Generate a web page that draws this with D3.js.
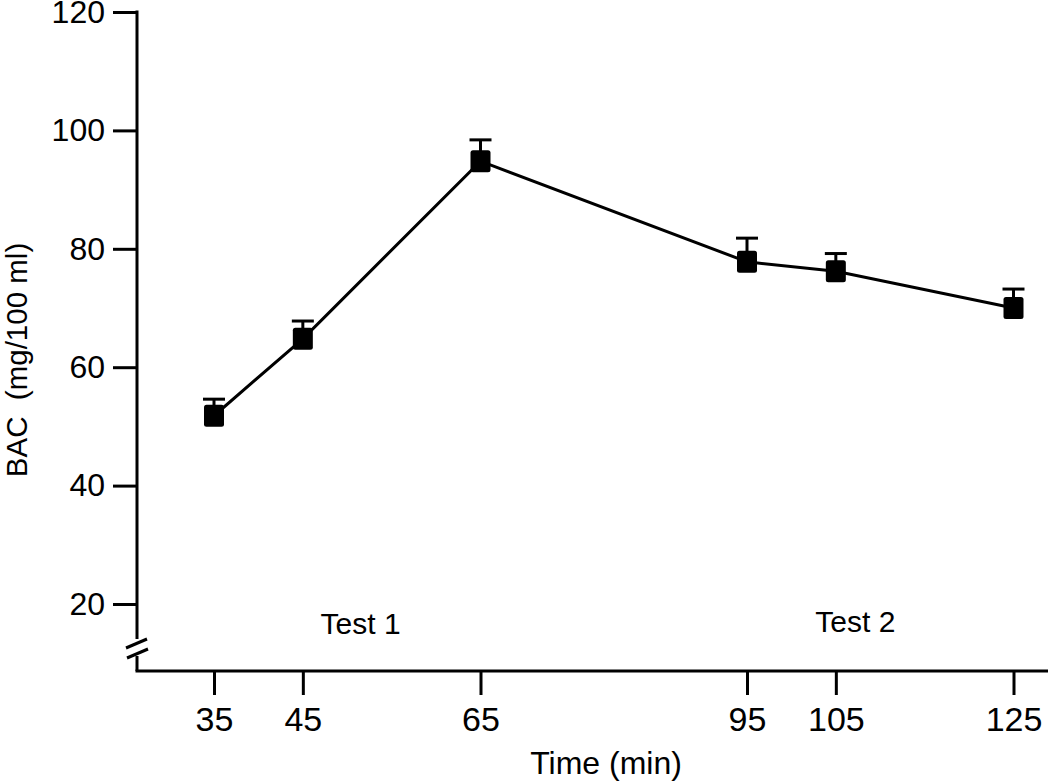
<!DOCTYPE html>
<html>
<head>
<meta charset="utf-8">
<script src="https://cdn.jsdelivr.net/npm/d3@7"></script>
<style>
  html, body { margin: 0; padding: 0; background: #fff; }
  svg { display: block; }
  text { font-family: "Liberation Sans", Arial, sans-serif; fill: #000; }
</style>
</head>
<body>
<svg id="chart" width="1050" height="781"></svg>
<script>
// ---- data ----
const times = [35, 45, 65, 95, 105, 125];
const bac = [51.8, 64.8, 94.8, 77.8, 76.2, 70.0];
const sem = [2.8, 3.0, 3.6, 4.0, 3.0, 3.2];
const xTicks = [35, 45, 65, 95, 105, 125];
const yTicks = [20, 40, 60, 80, 100, 120];
const testLabels = ["Test 1", "Test 2"];
const testTimes = [51.5, 107.2];
const testBac = [15, 15.3];
const xTitle = "Time (min)";
const yTitle = "BAC  (mg/100 ml)";

// ---- layout ----
const svg = d3.select("#chart");
const axisX0 = 137, axisY0 = 671, axisXEnd = 1048;
const x = d3.scaleLinear().domain([35, 125]).range([214, 1013.5]);
const y = d3.scaleLinear().domain([20, 120]).range([604, 12]);
const sw = 3;

// y axis ticks & labels
const yAxis = svg.append("g").attr("transform", `translate(${axisX0},0)`)
  .call(d3.axisLeft(y).tickValues(yTicks).tickSize(24).tickSizeOuter(0).tickPadding(8));
yAxis.select(".domain").remove();
yAxis.selectAll(".tick line").attr("stroke", "#000").attr("stroke-width", sw);
yAxis.selectAll(".tick text").attr("font-size", 32).attr("font-family", "Liberation Sans, Arial, sans-serif");

// x axis ticks & labels
const xAxis = svg.append("g").attr("transform", `translate(0,${axisY0})`)
  .call(d3.axisBottom(x).tickValues(xTicks).tickSize(24).tickSizeOuter(0).tickPadding(12));
xAxis.select(".domain").remove();
xAxis.selectAll(".tick line").attr("stroke", "#000").attr("stroke-width", sw);
xAxis.selectAll(".tick text").attr("font-size", 34).attr("font-family", "Liberation Sans, Arial, sans-serif");

// axis lines with break
const axes = svg.append("g").attr("stroke", "#000").attr("stroke-width", sw).attr("fill", "none");
axes.append("line").attr("x1", axisX0).attr("x2", axisX0).attr("y1", y(120) - 1.5).attr("y2", 639);
axes.append("line").attr("x1", axisX0).attr("x2", axisX0).attr("y1", 656).attr("y2", axisY0);
axes.append("line").attr("x1", axisX0 - 1.5).attr("x2", axisXEnd).attr("y1", axisY0).attr("y2", axisY0);
axes.append("line").attr("x1", 126).attr("y1", 648).attr("x2", 147).attr("y2", 639);
axes.append("line").attr("x1", 127).attr("y1", 658).attr("x2", 148).attr("y2", 649);

// data
const pts = times.map((t, i) => ({ t, v: bac[i], e: sem[i] }));

svg.append("path").datum(pts)
  .attr("fill", "none").attr("stroke", "#000").attr("stroke-width", sw)
  .attr("d", d3.line().x(d => x(d.t)).y(d => y(d.v)));

const eb = svg.append("g").attr("stroke", "#000").attr("stroke-width", sw);
eb.selectAll("line.stem").data(pts).join("line").attr("class", "stem")
  .attr("x1", d => x(d.t)).attr("x2", d => x(d.t))
  .attr("y1", d => y(d.v)).attr("y2", d => y(d.v + d.e));
eb.selectAll("line.cap").data(pts).join("line").attr("class", "cap")
  .attr("x1", d => x(d.t) - 11).attr("x2", d => x(d.t) + 11)
  .attr("y1", d => y(d.v + d.e)).attr("y2", d => y(d.v + d.e));

const mw = 20, mh = 22;
svg.append("g").selectAll("rect").data(pts).join("rect")
  .attr("x", d => x(d.t) - mw / 2).attr("y", d => y(d.v) - mh / 2)
  .attr("width", mw).attr("height", mh).attr("rx", 2.5)
  .attr("fill", "#000");

// test labels
svg.append("g").selectAll("text").data(testLabels).join("text")
  .attr("x", (d, i) => x(testTimes[i])).attr("y", (d, i) => y(testBac[i]))
  .attr("text-anchor", "middle").attr("font-size", 30)
  .text(d => d);

// titles
svg.append("text").attr("x", 606).attr("y", 774).attr("text-anchor", "middle")
  .attr("font-size", 32).text(xTitle);
svg.append("text").attr("transform", "translate(27,360) rotate(-90)")
  .attr("text-anchor", "middle").attr("font-size", 29.5)
  .style("white-space", "pre").attr("xml:space", "preserve").text(yTitle);
</script>
</body>
</html>
